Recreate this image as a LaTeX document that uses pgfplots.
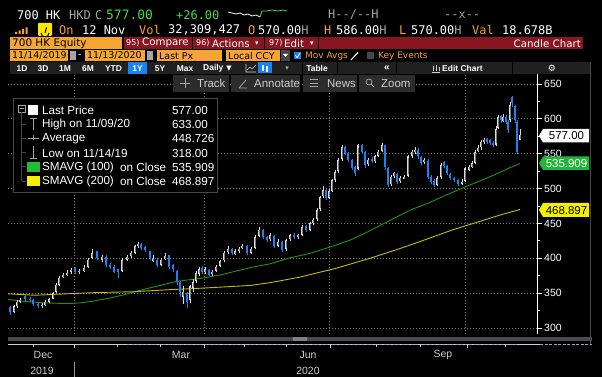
\documentclass[border=0pt]{standalone}
\usepackage{pgfplots}
\pgfplotsset{compat=1.18}
\usepackage{pgfplotstable}
\usepackage{fontspec}
\setmainfont{DejaVu Sans}
\newfontfamily\mono{DejaVu Sans Mono}
\newfontfamily\lib{Liberation Sans}
\newcommand{\fs}[1]{\fontsize{#1}{#1}\selectfont}
\definecolor{bbor}{RGB}{250,160,40}
\definecolor{bbbox}{RGB}{246,165,50}
\definecolor{bbred}{RGB}{135,22,32}
\definecolor{bbgreen}{RGB}{70,215,70}
\definecolor{bbbar}{RGB}{32,32,32}
\definecolor{bbbtn}{RGB}{44,44,44}
\definecolor{bbblue}{RGB}{25,130,245}
\definecolor{gridc}{RGB}{125,125,125}
\definecolor{upc}{RGB}{220,220,220}
\definecolor{upin}{RGB}{120,120,120}
\definecolor{smagreen}{RGB}{25,150,30}
\definecolor{smayel}{RGB}{195,190,0}
\definecolor{taggreen}{RGB}{35,180,60}
\definecolor{tagyel}{RGB}{245,240,0}
\definecolor{lgrey}{RGB}{205,205,205}
\definecolor{hgrey}{RGB}{165,165,165}
\definecolor{dgrey}{RGB}{70,70,70}
\definecolor{scrollc}{RGB}{75,75,75}
\definecolor{thumbc}{RGB}{130,130,130}
\definecolor{tlblue}{RGB}{140,170,215}
\definecolor{sepc}{RGB}{150,150,150}

\pgfplotstableread{
x o h l c
14 323 333 321 331
17 331 340 329 338
20 338 343 336 340
42 331 336 329 333
45 333 340 332 338
49 338 343 336 341
53 342 352 341 350
56 352 364 350 362
59 362 374 360 372
63 373 379 371 376
67 376 383 374 379
71 381 386 378 383
79 380 385 377 382
84 382 390 380 386
88 388 401 386 398
92 401 413 399 407
102 398 405 395 402
122 382 400 380 398
127 398 405 396 402
131 403 411 401 408
135 408 419 406 417
138 418 424 415 421
153 396 404 394 399
161 391 400 389 398
165 399 407 397 403
183 345 360 335 352
190 340 362 336 360
193 358 370 352 366
196 368 382 365 379
199 378 388 375 384
205 380 387 378 384
212 377 383 375 381
216 382 390 380 388
220 389 398 387 396
224 397 411 395 408
228 409 418 406 413
235 406 413 404 410
239 410 416 408 414
242 415 420 413 418
251 408 416 406 414
255 415 433 413 431
259 432 445 430 441
270 427 436 425 433
278 418 427 416 424
286 413 428 411 426
290 427 435 425 433
298 430 435 428 433
302 434 448 432 445
310 441 452 439 450
313 450 458 448 455
317 456 472 454 469
320 470 490 468 488
323 489 503 487 498
329 487 499 485 496
332 497 514 495 512
335 512 527 510 524
338 525 544 522 541
342 542 563 540 560
358 528 564 526 562
368 535 544 532 541
375 539 548 537 546
378 547 556 545 553
382 554 566 552 562
391 506 519 503 517
394 518 524 515 522
400 511 518 508 515
404 514 520 513 517
408 518 548 516 546
412 547 556 544 553
415 552 560 550 555
424 538 544 535 541
437 505 518 503 515
441 516 537 514 534
462 507 513 505 510
465 511 531 509 529
469 527 534 525 531
472 531 539 529 536
475 537 556 535 553
478 554 562 552 558
481 559 570 556 567
484 567 573 564 570
496 563 589 561 586
498 587 606 585 603
503 597 607 595 603
510 598 624 596 620
520 570 586 570 577
}\updata

\pgfplotstableread{
x o h l c
10 330 331 318 323
25 346 348 339 342
30 342 344 337 340
33 340 341 332 334
38 334 336 328 331
75 386 388 378 381
97 410 411 397 400
106 402 404 387 390
110 391 393 385 388
114 388 390 379 381
118 384 385 372 381
141 421 422 412 415
145 416 418 409 412
150 410 411 397 400
157 398 400 387 390
169 404 405 385 388
173 390 392 381 385
177 382 383 362 367
180 366 368 345 352
187 350 352 328 338
202 386 389 377 380
209 383 385 374 376
232 414 415 404 407
247 418 419 404 407
263 441 442 428 431
267 430 432 423 426
274 432 434 415 418
282 424 425 409 412
294 434 436 428 430
306 446 448 438 441
326 498 499 483 486
345 560 561 548 551
348 551 553 538 541
352 541 543 527 530
355 531 533 518 522
362 562 564 550 553
365 552 554 530 534
372 543 545 536 539
385 562 563 527 531
388 530 531 502 505
397 521 523 507 510
418 556 558 543 546
421 545 547 534 537
428 540 542 514 517
431 517 519 507 510
434 511 513 502 505
444 538 540 529 532
447 532 534 519 522
450 521 523 512 515
454 515 517 509 512
458 512 514 504 507
487 571 573 564 567
490 569 571 562 565
493 566 568 559 562
501 604 606 594 598
506 603 605 592 596
508 596 598 580 584
512 632 633 617 622
515 618 620 594 598
517 596 598 550 553
}\dndata

\pgfplotstableread{
x v
8 341
25 338
45 336
67 335
80 336
95 339
110 343
125 348
140 354
160 361
177 367
200 371
220 376
240 383
255 388
270 392
288 400
310 407
332 417
350 426
365 436
380 447
395 458
410 469
428 479
445 490
463 501
480 511
495 520
510 530
520 536
}\smaA

\pgfplotstableread{
x v
8 349
35 347
66 349
100 351
133 352
170 355
200 357
250 361
270 365
300 373
337 386
370 400
400 414
420 424
453 441
480 453
500 462
520 470
}\smaB

\begin{document}
\begin{tikzpicture}
\path[use as bounding box] (0,0) rectangle (602bp,377bp);
\fill[black] (0,0) rectangle (602bp,377bp);
\begin{axis}[
  at={(8bp,43bp)}, anchor=south west,
  width=529bp, height=260bp, scale only axis,
  xmin=8, xmax=537, ymin=291.4, ymax=664.3,
  axis line style={draw=none},
  xtick={74.5,204.5,329,465}, xticklabels={},
  ytick={300,350,...,650},
  minor y tick num=1,
  ytick pos=right, yticklabel pos=right,
  tick align=outside,
  major tick length=5bp, minor tick length=3bp,
  tick style={white, line width=0.8bp},
  xtick style={draw=none},
  yticklabel style={font=\lib\fs{10.5}, text=white, inner sep=2bp},
  /pgf/number format/assume math mode=true,
  grid=major,
  major grid style={gridc, line width=0.7bp, dash pattern=on 0.8bp off 2.2bp},
]
\addplot[smagreen, line width=0.9bp] table[x=x,y=v] {\smaA};
\addplot[smayel, line width=0.9bp] table[x=x,y=v] {\smaB};
\addplot[upc, line width=0.7bp, quiver={u=0, v=\thisrow{h}-\thisrow{l}}] table[x=x, y=l] {\updata};
\addplot[upc, line width=2.1bp, quiver={u=0, v=\thisrow{c}-\thisrow{o}}] table[x=x, y=o] {\updata};
\addplot[upin, line width=0.7bp, quiver={u=0, v=0.8*(\thisrow{c}-\thisrow{o})}] table[x=x, y expr=\thisrow{o}+0.1*(\thisrow{c}-\thisrow{o})] {\updata};
\addplot[bbblue, line width=0.7bp, quiver={u=0, v=\thisrow{h}-\thisrow{l}}] table[x=x, y=l] {\dndata};
\addplot[bbblue, line width=2.1bp, quiver={u=0, v=\thisrow{c}-\thisrow{o}}] table[x=x, y=o] {\dndata};
\end{axis}

\begin{scope}[x=1bp,y=-1bp,shift={(0,377bp)}]
% right axis line and border
\draw[white, line width=1bp] (537,74) -- (537,334);
\draw[dgrey, line width=0.8bp] (590.5,62) -- (590.5,345);

% header row 1 and 2
\begin{scope}[every node/.style={anchor=west, inner sep=0pt}, font=\mono\fs{12}]
\node[text=white] at (17,15) {700 HK};
\node[text=hgrey] at (69,15) {HKD};
\node[text=hgrey] at (95,15) {C};
\node[text=bbgreen, font=\mono\fs{13}] at (106,15) {577.00};
\node[text=bbgreen] at (176,15) {+26.00};
\node[text=hgrey] at (328,15) {H{-}{-}/{-}{-}H};
\node[text=hgrey] at (444,15) {{-}{-}x{-}{-}};
\node[text=bbor] at (59,30) {On};
\node[text=white] at (82,30) {12 Nov};
\node[text=bbor] at (139,30) {Vol};
\node[text=white] at (168,30) {32,309,427};
\node[text=bbor] at (248,30) {O};
\node[text=white] at (258,30) {570.00\textcolor{hgrey}{H}};
\node[text=bbor] at (324,30) {H};
\node[text=white] at (336,30) {586.00\textcolor{hgrey}{H}};
\node[text=bbor] at (399,30) {L};
\node[text=white] at (411,30) {570.00\textcolor{hgrey}{H}};
\node[text=bbor] at (472,30) {Val};
\node[text=white] at (502,30) {18.678B};
\end{scope}
% sparkline
\draw[white, line width=0.8bp] (228,12) -- (232,13) -- (236,14) -- (240,13) -- (244,15) -- (248,14) -- (252,16) -- (256,15) -- (260,17);
\draw[bbgreen, line width=0.8bp] (260,17) -- (262,11) -- (266,11) -- (272,10) -- (278,11) -- (283,10) -- (287,11);
% signal icon and yellow icon
\fill[bbor] (15,32) rectangle (17,34) (18.5,30.5) rectangle (20.5,34) (22,29) rectangle (24,34) (25.5,27.5) rectangle (27.5,34);
\fill[yellow!90!orange, rounded corners=1bp] (38,23) rectangle (52,36);
\draw[black, line width=1bp] (41,33) arc (180:0:4);
\draw[black, line width=1bp] (45,33) -- (46.5,27.5);

% row 3
\fill[bbbox] (10,37) rectangle (122,49);
\node[anchor=west, inner sep=0pt, font=\fs{10.5}] at (12,43.2) {700 HK Equity};
\fill[bbred] (124,37) rectangle (583,49);
\draw[black, line width=1bp] (192.5,37) -- (192.5,49) (264.5,37) -- (264.5,49) (318,37) -- (318,49);
\begin{scope}[every node/.style={anchor=west, inner sep=0pt, text=white}]
\node[font=\fs{8}] at (126,43.5) {95)};
\node[font=\fs{10.3}] at (142,43.2) {Compare};
\node[font=\fs{8}] at (196,43.5) {96)};
\node[font=\fs{10.3}] at (212,43.2) {Actions};
\node[font=\fs{7}] at (255,43.5) {▾};
\node[font=\fs{8}] at (269,43.5) {97)};
\node[font=\fs{10.3}] at (284,43.2) {Edit};
\node[font=\fs{7}] at (310,43.5) {▾};
\node[font=\fs{10.3}, anchor=east] at (581,43.2) {Candle Chart};
\end{scope}

% row 4
\fill[bbbox] (10,50) rectangle (68,61);
\fill[bbbox] (85,50) rectangle (145,61);
\fill[bbbox] (157,50) rectangle (222,61);
\fill[bbbox] (226,50) rectangle (280,61);
\fill[hgrey] (69.5,51.5) rectangle (75.5,60);
\fill[hgrey] (146.5,51.5) rectangle (152.5,60);
\fill[dgrey] (281,50) rectangle (290,61);
\fill[white] (283,54) -- (288,54) -- (285.5,57) -- cycle;
\fill[bbblue] (294,52) rectangle (301,59);
\draw[white, line width=0.8bp] (295.5,55.5) -- (297.2,57.5) -- (300,53);
\fill[dgrey] (367,52) rectangle (374,59);
\draw[white, line width=1.1bp] (351,60) -- (358,52.5);
\begin{scope}[every node/.style={anchor=west, inner sep=0pt}]
\node[font=\fs{9.5}] at (12,55.7) {11/14/2019};
\node[font=\fs{9.5}] at (87,55.7) {11/13/2020};
\node[font=\fs{9.5}] at (159,55.7) {Last Px};
\node[font=\fs{9.5}] at (228,55.7) {Local CCY};
\node[font=\fs{9.5}, text=white] at (78,55.7) {-};
\node[font=\fs{9}, text=bbor] at (305,55.7) {Mov Avgs};
\node[font=\fs{9}, text=bbor] at (378,55.7) {Key Events};
\end{scope}

% row 5
\fill[bbbar] (10,62) rectangle (590,74);
\draw[black, line width=1bp] (302,62) -- (302,74) (337,62) -- (337,74) (396,62) -- (396,74) (512,62) -- (512,74);
\fill[bbblue] (128,62) rectangle (147,74);
\fill[bbblue] (258,62.5) rectangle (272,73.5);
\draw[white, line width=1.3bp] (263,65) -- (263,71) (267,66) -- (267,72);
\draw[lgrey, line width=0.6bp] (246,64) -- (246,72) -- (256,72) (247,70) -- (250,67) -- (252,69) -- (256,65);
\begin{scope}[every node/.style={inner sep=0pt, text=white}, font=\lib\bfseries\fs{8.5}]
\node at (22,68.3) {1D};
\node at (43,68.3) {3D};
\node at (65,68.3) {1M};
\node at (88,68.3) {6M};
\node at (113.5,68.3) {YTD};
\node at (137.5,68.3) {1Y};
\node at (160,68.3) {5Y};
\node at (185,68.3) {Max};
\node[anchor=west] at (203,68.3) {Daily};
\node[font=\fs{7}] at (229,68.3) {▼};
\node[font=\fs{7}, text=hgrey] at (287,68.3) {▾};
\node at (317,68.3) {Table};
\node[font=\lib\bfseries\fs{10}] at (387,68) {«};
\node[anchor=west] at (442,68.3) {Edit Chart};
\node[font=\fs{9}] at (552,68.3) {⚙};
\end{scope}
\draw[lgrey, line width=0.7bp] (432,72) -- (440,72) (433,71) -- (433,66) (436,71) -- (436,65) (439,71) -- (439,67);

% row 6 buttons
\fill[bbbtn] (173,75) rectangle (229,92);
\fill[bbbtn] (231,75) rectangle (300,92);
\fill[bbbtn] (303,75) rectangle (357,92);
\fill[bbbtn] (359,75) rectangle (415,92);
\draw[hgrey, line width=0.8bp] (180,83.5) -- (190,83.5) (185,78.5) -- (185,88.5);
\draw[hgrey, line width=0.8bp] (239,88) -- (247,88) (239,88) -- (246,80);
\draw[hgrey, line width=1bp] (310,80) -- (318,80) (310,83.5) -- (318,83.5) (310,87) -- (318,87);
\draw[hgrey, line width=0.8bp] (369,82) circle (3) (371.2,84.2) -- (374,87);
\begin{scope}[every node/.style={anchor=west, inner sep=0pt, text=lgrey}, font=\lib\fs{11.5}]
\node at (197,83.8) {Track};
\node at (254,83.8) {Annotate};
\node at (327,83.8) {News};
\node at (381,83.8) {Zoom};
\end{scope}

% legend
\fill[black] (13,98) rectangle (217,192);
\draw[dgrey, line width=0.6bp] (13,98) rectangle (217,192);
\draw[hgrey, line width=0.6bp] (18.5,105.5) rectangle (25,112);
\draw[hgrey, line width=0.6bp] (20,108.75) -- (23.5,108.75);
\draw[dgrey, line width=0.6bp] (21.75,112) -- (21.75,181.5);
\foreach \yy in {124,138,152.7,166.7,181.5} {\draw[dgrey, line width=0.6bp] (21.75,\yy) -- (26,\yy);}
\fill[white] (28,105) rectangle (38,115);
\draw[hgrey, line width=0.8bp] (30,118.5) -- (37,118.5) (33.5,118.5) -- (33.5,130);
\draw[hgrey, line width=0.8bp] (28,138) -- (39,138) (33.5,135.5) -- (33.5,140.5);
\draw[hgrey, line width=0.8bp] (33.5,146.5) -- (33.5,158) (30,158) -- (37,158);
\fill[taggreen!85!green] (27,161.7) rectangle (40,171.7);
\fill[tagyel] (27,176.5) rectangle (40,186.5);
\begin{scope}[every node/.style={anchor=west, inner sep=0pt, text=white}, font=\lib\fs{11.7}]
\node at (42,110.3) {Last Price};
\node at (172,110.3) {577.00};
\node at (42,124.3) {High on 11/09/20};
\node at (172,124.3) {633.00};
\node at (42,138.3) {Average};
\node at (172,138.3) {448.726};
\node at (42,153) {Low on 11/14/19};
\node at (172,153) {318.00};
\node at (42,167) {SMAVG (100)};
\node at (120,167) {on Close};
\node at (172,167) {535.909};
\node at (42,181.8) {SMAVG (200)};
\node at (120,181.8) {on Close};
\node at (172,181.8) {468.897};
\end{scope}

% value tags
\fill[white] (539,135.8) -- (543,129) -- (589,129) -- (589,142.5) -- (543,142.5) -- cycle;
\node[inner sep=0pt, font=\lib\fs{11.5}, text=black] at (566.5,136) {577.00};
\fill[taggreen] (539,163.2) -- (543,156.5) -- (589,156.5) -- (589,170) -- (543,170) -- cycle;
\node[inner sep=0pt, font=\lib\fs{11.5}, text=white] at (566.5,163.4) {535.909};
\fill[tagyel] (539,210) -- (543,203) -- (589,203) -- (589,217) -- (543,217) -- cycle;
\node[inner sep=0pt, font=\lib\fs{11.5}, text=black] at (566.5,210.2) {468.897};

% bottom scrollbar and timeline
\fill[scrollc] (8,337) rectangle (592,341.5);
\fill[thumbc] (293,337) rectangle (307,341.5);
\draw[lgrey, line width=0.8bp] (8,344) -- (540,344);
\draw[tlblue, line width=1.1bp, dash pattern=on 3bp off 1.5bp] (127,344.3) -- (517,344.3) (540,344.3) -- (592,344.3);
\foreach \xx in {33.6,117,160,244,286,376,420,505} {\draw[lgrey, line width=0.7bp] (\xx,344) -- (\xx,347);}
\foreach \xx in {74.5,204.5,330,467} {\draw[lgrey, line width=0.7bp] (\xx,344) -- (\xx,348);}
\draw[sepc, line width=0.7bp] (74.5,362) -- (74.5,377);
\begin{scope}[every node/.style={inner sep=0pt, text=lgrey}, font=\lib\fs{10.5}]
\node at (43,355) {Dec};
\node at (181,355) {Mar};
\node at (308,355) {Jun};
\node at (443,355) {Sep};
\node at (42,370.5) {2019};
\node at (308,370.5) {2020};
\end{scope}
\end{scope}
\end{tikzpicture}
\end{document}
